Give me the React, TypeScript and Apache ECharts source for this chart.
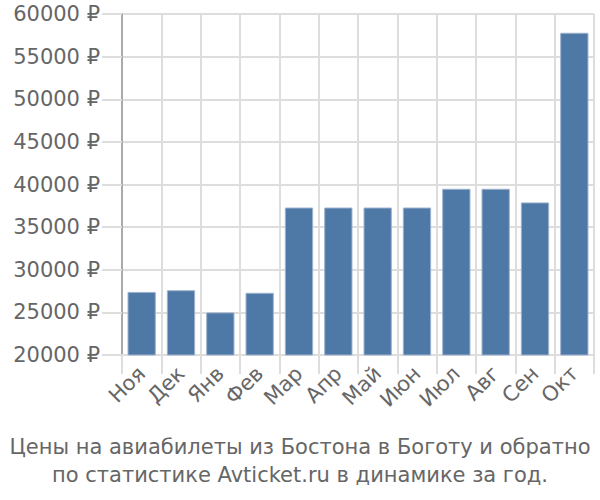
import React, { useEffect, useRef } from "react";
import * as echarts from "echarts";

const categories = ["Ноя", "Дек", "Янв", "Фев", "Мар", "Апр", "Май", "Июн", "Июл", "Авг", "Сен", "Окт"];
const prices = [27400, 27600, 25000, 27300, 37300, 37300, 37300, 37300, 39500, 39500, 37900, 57800];
const titleLines = [
  "Цены на авиабилеты из Бостона в Боготу и обратно",
  "по статистике Avticket.ru в динамике за год.",
];

const FONT = "DejaVu Sans, sans-serif";

export default function App() {
  const ref = useRef<HTMLDivElement>(null);
  useEffect(() => {
    if (!ref.current) return;
    const chart = echarts.init(ref.current, undefined, { renderer: "svg" });
    chart.setOption({
      animation: false,
      textStyle: { fontFamily: FONT },
      title: {
        text: titleLines.join("\n"),
        left: "center",
        top: 428,
        textStyle: { color: "#666", fontSize: 21, fontWeight: "normal", lineHeight: 28, fontFamily: FONT },
      },
      grid: { left: 122, right: 6, top: 14, bottom: 145, containLabel: false },
      xAxis: {
        type: "category",
        data: categories,
        axisLine: { show: true, lineStyle: { color: "#ddd", width: 2 } },
        axisTick: { show: true, length: 19, lineStyle: { color: "#ddd", width: 2 } },
        splitLine: { show: true, lineStyle: { color: "#ddd", width: 2 } },
        axisLabel: { rotate: 45, color: "#666", fontSize: 21, margin: 15, interval: 0, fontFamily: FONT },
      },
      yAxis: {
        type: "value",
        min: 20000,
        max: 60000,
        interval: 5000,
        axisLine: { show: true, lineStyle: { color: "#aaa", width: 2 } },
        axisTick: { show: true, length: 20, lineStyle: { color: "#ddd", width: 2 } },
        splitLine: { show: true, lineStyle: { color: "#ddd", width: 2 } },
        axisLabel: { color: "#666", fontSize: 21, margin: 22, fontFamily: FONT, formatter: (v: number) => `${v} ₽` },
      },
      series: [
        {
          type: "bar",
          data: prices,
          barCategoryGap: "28%",
          itemStyle: { color: "#4e78a6", borderColor: "#9fb3cf", borderWidth: 1 },
        },
      ],
    });
    return () => chart.dispose();
  }, []);
  return <div ref={ref} style={{ position: "absolute", left: 0, top: 0, width: 600, height: 500 }} />;
}
